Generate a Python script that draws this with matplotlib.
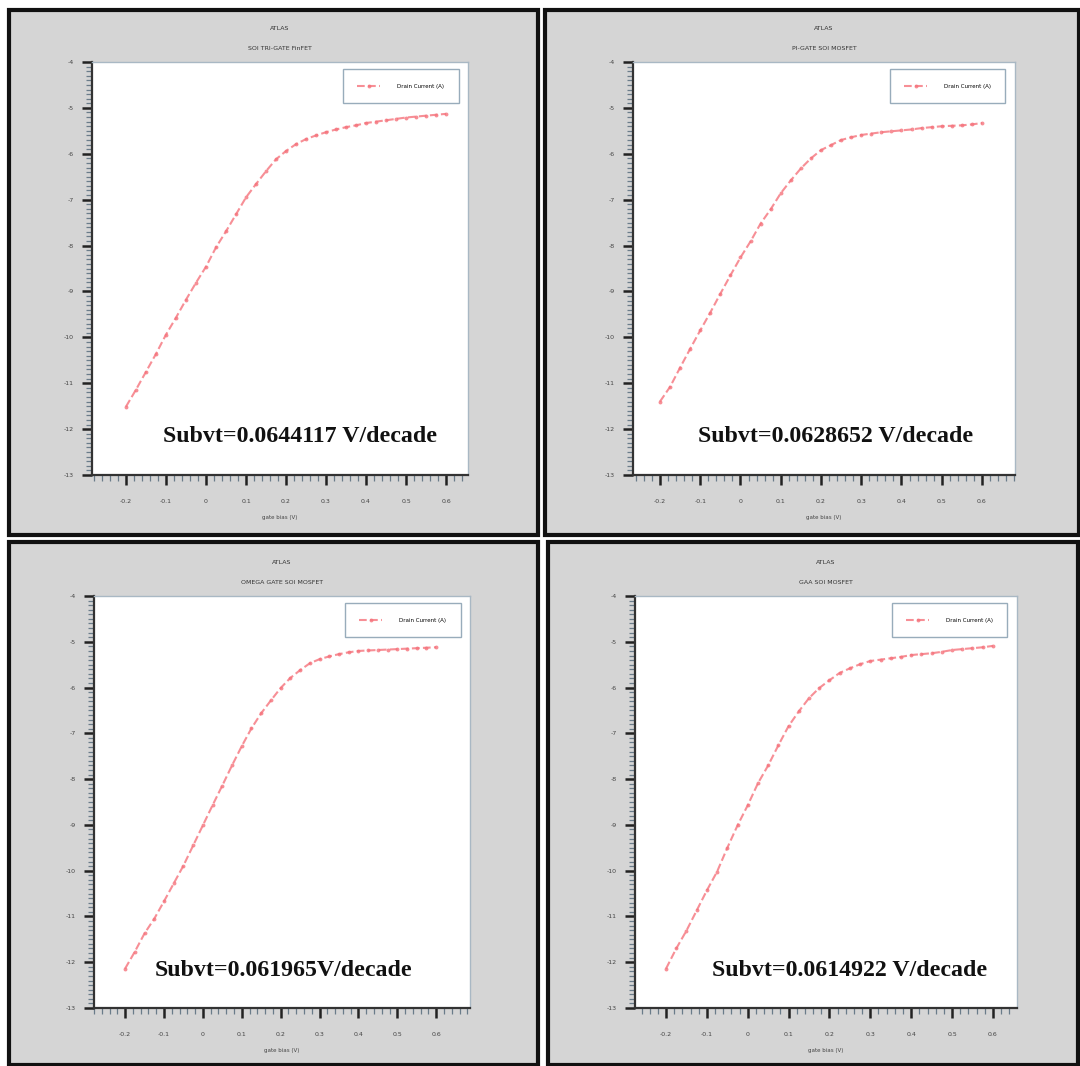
import numpy as np
import matplotlib
matplotlib.use("Agg")
import matplotlib.pyplot as plt
from matplotlib.patches import Rectangle
from matplotlib.ticker import AutoMinorLocator

plt.rcParams["axes.unicode_minus"] = False

# ---------------- data ----------------
gate_bias = [-0.2, -0.175, -0.15, -0.125, -0.1, -0.075, -0.05, -0.025, 0.0,
             0.025, 0.05, 0.075, 0.1, 0.125, 0.15, 0.175, 0.2, 0.225, 0.25,
             0.275, 0.3, 0.325, 0.35, 0.375, 0.4, 0.425, 0.45, 0.475, 0.5,
             0.525, 0.55, 0.575, 0.6]

tri_gate = [-11.51, -11.14, -10.75, -10.36, -9.94, -9.57, -9.18, -8.81, -8.46,
            -8.04, -7.69, -7.32, -6.95, -6.66, -6.38, -6.12, -5.94, -5.79, -5.68,
            -5.60, -5.53, -5.47, -5.42, -5.38, -5.33, -5.30, -5.27, -5.24, -5.21,
            -5.19, -5.17, -5.15, -5.13]
pi_gate = [-11.40, -11.08, -10.66, -10.25, -9.85, -9.46, -9.05, -8.65, -8.26,
           -7.91, -7.52, -7.21, -6.86, -6.58, -6.32, -6.10, -5.92, -5.81, -5.70,
           -5.64, -5.59, -5.56, -5.53, -5.51, -5.49, -5.47, -5.44, -5.42, -5.40,
           -5.39, -5.38, -5.36, -5.33]
omega_gate = [-12.14, -11.77, -11.37, -11.05, -10.67, -10.28, -9.89, -9.45, -9.01,
              -8.57, -8.14, -7.70, -7.28, -6.89, -6.56, -6.28, -6.01, -5.79, -5.62,
              -5.47, -5.38, -5.32, -5.27, -5.23, -5.20, -5.19, -5.18, -5.17, -5.16,
              -5.15, -5.14, -5.13, -5.12]
gaa = [-12.14, -11.70, -11.31, -10.87, -10.43, -10.02, -9.50, -9.01, -8.57,
       -8.09, -7.70, -7.26, -6.84, -6.52, -6.23, -6.01, -5.84, -5.68, -5.58,
       -5.49, -5.42, -5.39, -5.36, -5.33, -5.29, -5.27, -5.25, -5.22, -5.18,
       -5.16, -5.14, -5.12, -5.09]

subtitles = ["SOI TRI-GATE FinFET", "PI-GATE SOI MOSFET",
             "OMEGA GATE SOI MOSFET", "GAA SOI MOSFET"]
subvt_labels = ["Subvt=0.0644117 V/decade", "Subvt=0.0628652 V/decade",
                "Subvt=0.061965V/decade", "Subvt=0.0614922 V/decade"]
series = [tri_gate, pi_gate, omega_gate, gaa]
x_ticks = [-0.2, -0.1, 0, 0.1, 0.2, 0.3, 0.4, 0.5, 0.6]
x_ticklabels = ["-0.2", "-0.1", "0", "0.1", "0.2", "0.3", "0.4", "0.5", "0.6"]
y_ticks = [-4, -5, -6, -7, -8, -9, -10, -11, -12, -13]

# ---------------- layout (pixels) ----------------
W, H = 1080, 1066
fig = plt.figure(figsize=(W / 100, H / 100), dpi=100)
fig.patch.set_facecolor("white")

def fr(l, t, r, b):
    return [l / W, 1 - b / H, (r - l) / W, (b - t) / H]

panel_px = [(9, 10, 538, 535), (545, 10, 1079, 535),
            (9, 542, 538, 1065), (548, 542, 1078, 1065)]
axes_px = [(92, 62, 468, 475), (633, 62, 1015, 475),
           (94, 596, 470, 1008), (635, 596, 1017, 1008)]
xlims = [(-0.285, 0.655), (-0.267, 0.682), (-0.28, 0.687), (-0.276, 0.659)]
text_pos = [(300, 436), (836, 436), (283, 970), (850, 970)]

for (l, t, r, b) in panel_px:
    fig.patches.append(Rectangle((l / W, 1 - b / H), (r - l) / W, (b - t) / H,
                                 transform=fig.transFigure, facecolor="#d5d5d5",
                                 edgecolor="#111111", linewidth=3, zorder=-10))

for i in range(4):
    l, t, r, b = axes_px[i]
    ax = fig.add_axes(fr(l, t, r, b))
    ax.set_zorder(1)
    ax.set_facecolor("white")
    ax.plot(gate_bias, series[i], linestyle="--", color="#f5737c", lw=1.5,
            marker="o", markersize=2.8, markeredgewidth=0, alpha=0.8,
            label="Drain Current (A)")
    ax.set_xlim(*xlims[i])
    ax.set_ylim(-13, -4)
    ax.set_xticks(x_ticks)
    ax.set_xticklabels(x_ticklabels)
    ax.set_yticks(y_ticks)
    ax.xaxis.set_minor_locator(AutoMinorLocator(5))
    ax.yaxis.set_minor_locator(AutoMinorLocator(10))
    ax.tick_params(axis="both", which="major", direction="out", length=7,
                   width=1.8, color="#222222", labelsize=4.5,
                   labelcolor="#444444", pad=6)
    ax.tick_params(axis="both", which="minor", direction="out", length=4,
                   width=0.9, color="#6a7c8a")
    ax.tick_params(axis="x", which="major", pad=10)
    for s in ("top", "right"):
        ax.spines[s].set_color("#a9b8c4")
        ax.spines[s].set_linewidth(1.0)
    for s in ("left", "bottom"):
        ax.spines[s].set_color("#333333")
        ax.spines[s].set_linewidth(1.6)
    ax.set_xlabel("gate bias (V)", fontsize=4, color="#444444", labelpad=8)
    leg = ax.legend(loc="upper right", bbox_to_anchor=(0.975, 0.982),
                    fontsize=4, frameon=True, fancybox=False, borderpad=2.6,
                    handlelength=4.2, handletextpad=3.0, borderaxespad=0)
    leg.get_frame().set_edgecolor("#7f97aa")
    leg.get_frame().set_linewidth(1.0)
    cx = (l + r) / 2
    fig.text(cx / W, 1 - (t - 34) / H, "ATLAS", ha="center", va="center",
             fontsize=4.5, color="#333333")
    fig.text(cx / W, 1 - (t - 13) / H, subtitles[i], ha="center", va="center",
             fontsize=4.5, color="#333333")
    tx, ty = text_pos[i]
    ax.text(tx / W, 1 - ty / H, subvt_labels[i], transform=fig.transFigure,
            ha="center", va="center", fontsize=17.2, fontweight="bold",
            family="Liberation Serif", color="#111111", zorder=5)

fig.savefig("out.png", dpi=100, facecolor="white")
